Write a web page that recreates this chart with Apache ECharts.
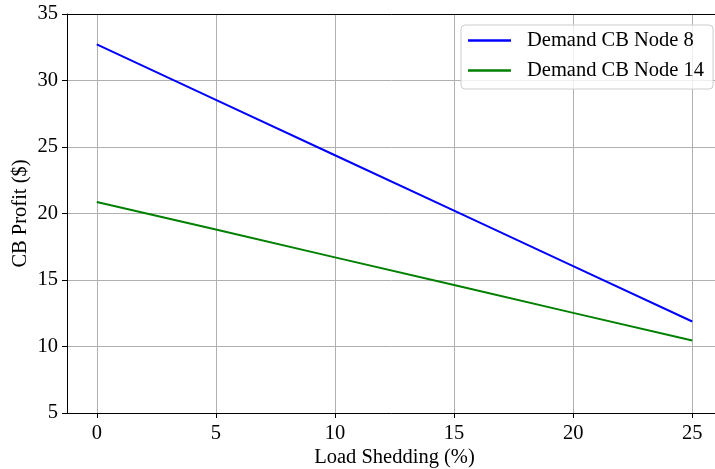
<!DOCTYPE html>
<html>
<head>
<meta charset="utf-8">
<script src="https://cdn.jsdelivr.net/npm/echarts@6/dist/echarts.min.js"></script>
<style>
  html, body { margin: 0; padding: 0; background: #fff; }
  #chart { width: 715px; height: 469px; }
</style>
</head>
<body>
<div id="chart"></div>
<script>
// Load shedding levels (%) and the resulting CB profit for each demand node
const loadShedding = [0, 5, 10, 15, 20, 25];
const profitNode8 = [32.72, 28.55, 24.38, 20.21, 16.05, 11.88];
const profitNode14 = [20.87, 18.79, 16.70, 14.62, 12.53, 10.45];
const xTicks = [0, 5, 10, 15, 20, 25];
const seriesNames = ['Demand CB Node 8', 'Demand CB Node 14'];

const FONT = '"Liberation Serif", "Times New Roman", serif';
const FS = 20.5;

const toPairs = (xs, ys) => xs.map((x, i) => [x, ys[i]]);

const chart = echarts.init(document.getElementById('chart'), null, { renderer: 'canvas' });

chart.setOption({
  animation: false,
  backgroundColor: '#fff',
  grid: { left: 67, top: 14, bottom: 56, width: 655, outerBoundsMode: 'none', containLabel: false },
  legend: {
    orient: 'vertical',
    left: 461, top: 25,
    padding: [5, 9, 8, 7],
    itemGap: 9,
    itemWidth: 43, itemHeight: 2.5,
    icon: 'rect',
    backgroundColor: 'rgba(255,255,255,0.8)',
    borderColor: '#cccccc', borderWidth: 1, borderRadius: 4,
    textStyle: { fontFamily: FONT, fontSize: FS, color: '#000', padding: [0, 0, 0, 11], lineHeight: 20 },
    data: seriesNames
  },
  xAxis: [
    {
      type: 'value',
      min: -1.25, max: 26.25,
      name: 'Load Shedding (%)',
      nameLocation: 'middle', nameGap: 34, nameMoveOverlap: false,
      nameTextStyle: { fontFamily: FONT, fontSize: FS, color: '#000' },
      axisLine: { show: true, onZero: false, lineStyle: { color: '#000', width: 1 } },
      axisTick: { show: true, length: 5, customValues: xTicks, lineStyle: { color: '#000' } },
      axisLabel: { customValues: xTicks, margin: 10, fontFamily: FONT, fontSize: FS, color: '#000' },
      splitLine: { show: true, lineStyle: { color: '#b0b0b0', width: 1 } }
    },
    {
      // top spine
      type: 'value', position: 'top',
      min: -1.25, max: 26.25,
      axisLine: { show: true, onZero: false, lineStyle: { color: '#000', width: 1 } },
      axisTick: { show: false }, axisLabel: { show: false }, splitLine: { show: false }
    }
  ],
  yAxis: {
    type: 'value',
    min: 5, max: 35, interval: 5,
    name: 'CB Profit ($)',
    nameLocation: 'middle', nameGap: 36, nameRotate: 90, nameMoveOverlap: false,
    nameTextStyle: { fontFamily: FONT, fontSize: FS, color: '#000' },
    axisLine: { show: true, onZero: false, lineStyle: { color: '#000', width: 1 } },
    axisTick: { show: true, length: 5, lineStyle: { color: '#000' } },
    axisLabel: { margin: 9, fontFamily: FONT, fontSize: FS, color: '#000' },
    splitLine: { show: true, lineStyle: { color: '#b0b0b0', width: 1 } }
  },
  series: [
    {
      name: seriesNames[0], type: 'line',
      data: toPairs(loadShedding, profitNode8),
      symbol: 'none', color: '#0000ff',
      lineStyle: { color: '#0000ff', width: 2 }
    },
    {
      name: seriesNames[1], type: 'line',
      data: toPairs(loadShedding, profitNode14),
      symbol: 'none', color: '#008000',
      lineStyle: { color: '#008000', width: 2 }
    }
  ]
});
</script>
</body>
</html>
